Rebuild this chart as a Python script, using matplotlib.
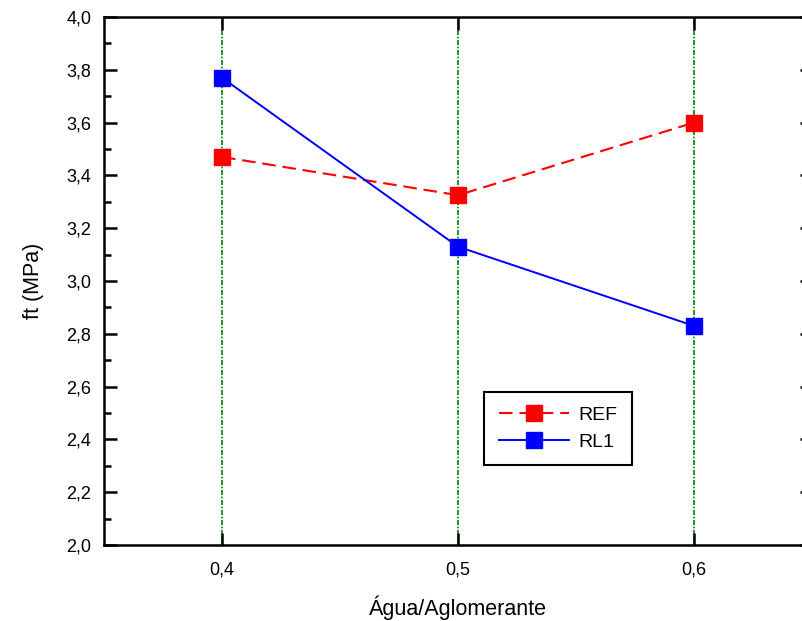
"""Resistencia a tracao vs relacao agua/aglomerante"""

import matplotlib

matplotlib.use("Agg")
import matplotlib.pyplot as plt
from matplotlib.ticker import FuncFormatter, MultipleLocator

# section: data
agua_aglom = [0.4, 0.5, 0.6]
ft_ref = [3.47, 3.325, 3.60]
ft_rl1 = [3.77, 3.13, 2.83]
series_labels = ["REF", "RL1"]
x_label = "Água/Aglomerante"
y_label = "ft (MPa)"


def comma(fmt):
    return FuncFormatter(lambda v, pos: format(v, fmt).replace(".", ","))


def main():
    plt.rcParams["font.family"] = ["Liberation Sans", "DejaVu Sans"]
    W, H = 803, 621
    fig = plt.figure(figsize=(W / 100, H / 100), dpi=100)
    # axes runs past the right edge like the original export
    ax = fig.add_axes([104 / W, (H - 545) / H, (812 - 104) / W, (545 - 17) / H])

    # section: drawing
    ax.plot(agua_aglom, ft_ref, color="#ff0000", linestyle=(0, (6.5, 3.3)), lw=1.5,
            marker="s", markersize=11.5, label=series_labels[0], zorder=3)
    ax.plot(agua_aglom, ft_rl1, color="#0000ff", linestyle="-", lw=1.4,
            marker="s", markersize=11.5, label=series_labels[1], zorder=3)

    ax.set_xlim(0.35, 0.65)
    ax.set_ylim(2.0, 4.0)
    ax.xaxis.set_major_locator(MultipleLocator(0.1))
    ax.yaxis.set_major_locator(MultipleLocator(0.2))
    ax.yaxis.set_minor_locator(MultipleLocator(0.1))
    ax.xaxis.set_major_formatter(comma(".1f"))
    ax.yaxis.set_major_formatter(comma(".1f"))
    ax.grid(axis="x", color="#008000", linestyle=(0, (3, 1, 1, 1)), lw=1.2)

    for s in ax.spines.values():
        s.set_linewidth(1.8)
    ax.tick_params(which="both", direction="in", top=True, right=True,
                   labelsize=13, width=1.8)
    ax.tick_params(which="major", length=9, pad=9)
    ax.tick_params(which="minor", length=5)
    ax.tick_params(axis="x", pad=12)

    ax.set_xlabel(x_label, fontsize=15.5, labelpad=12)
    ax.set_ylabel(y_label, fontsize=15.5, labelpad=16)

    leg = ax.legend(loc="upper left", bbox_to_anchor=(484 / W, 1 - 392 / H),
                    bbox_transform=fig.transFigure, fontsize=14,
                    handlelength=3.6, handletextpad=0.5, borderpad=0.75,
                    labelspacing=0.45, fancybox=False, framealpha=1,
                    edgecolor="black", borderaxespad=0)
    leg.get_frame().set_linewidth(1.5)

    fig.savefig("out.png", dpi=100)
    plt.close(fig)


if __name__ == "__main__":
    main()
